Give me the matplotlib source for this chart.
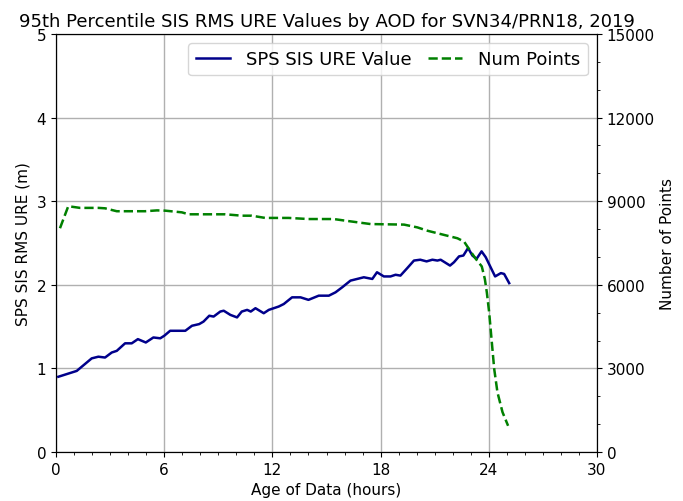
import matplotlib
matplotlib.use("Agg")
import matplotlib.pyplot as plt
from matplotlib.ticker import MultipleLocator

# SIS URE (m) vs age of data (hours)
ure_hours = [0.13, 1.15, 1.98, 2.35, 2.72, 3.09, 3.37, 3.83, 4.2, 4.54, 4.98, 5.4, 5.78, 6.0,
             6.33, 7.17, 7.54, 7.94, 8.18, 8.5, 8.74, 9.11, 9.3, 9.67, 10.04, 10.3, 10.6, 10.8,
             11.06, 11.52, 11.8, 12.35, 12.63, 13.09, 13.56, 14.0, 14.57, 15.13, 15.5, 15.87,
             16.33, 17.07, 17.54, 17.8, 18.18, 18.55, 18.83, 19.1, 19.48, 19.85, 20.2, 20.55,
             20.87, 21.15, 21.33, 21.85, 22.07, 22.35, 22.59, 22.85, 23.09, 23.32, 23.6, 23.83,
             24.1, 24.35, 24.67, 24.85, 25.13]
ure_values = [0.90, 0.97, 1.12, 1.14, 1.13, 1.19, 1.21, 1.30, 1.30, 1.35, 1.31, 1.37, 1.36, 1.39,
              1.45, 1.45, 1.51, 1.53, 1.56, 1.63, 1.62, 1.68, 1.69, 1.64, 1.61, 1.68, 1.70, 1.68,
              1.72, 1.66, 1.70, 1.74, 1.77, 1.85, 1.85, 1.82, 1.87, 1.87, 1.91, 1.97,
              2.05, 2.09, 2.07, 2.15, 2.10, 2.10, 2.12, 2.11, 2.20, 2.29, 2.30, 2.28,
              2.30, 2.29, 2.30, 2.23, 2.27, 2.34, 2.35, 2.44, 2.35, 2.31, 2.40, 2.33,
              2.21, 2.10, 2.14, 2.13, 2.02]

# Number of points vs age of data (hours)
num_hours = [0.22, 0.68, 1.33, 2.35, 2.72, 3.37, 4.94, 5.6, 6.06, 6.98, 7.35, 9.39, 10.3, 10.85,
             11.6, 12.9, 14.0, 15.4, 16.06, 17.44, 19.3, 20.04, 20.6, 21.52, 22.26, 22.63,
             23.0, 23.28, 23.61, 23.78, 23.89, 24.02, 24.15, 24.3, 24.48, 24.76, 25.07]
num_points = [8030, 8820, 8760, 8760, 8745, 8640, 8640, 8670, 8660, 8600, 8530, 8530, 8480, 8480,
              8400, 8400, 8360, 8360, 8300, 8180, 8160, 8060, 7940, 7790, 7670, 7550,
              7190, 6930, 6660, 6210, 5730, 5010, 4060, 2980, 2140, 1430, 940]

fig = plt.figure(figsize=(6.83, 5.02), dpi=100)
ax = fig.add_axes([56/683, 1-453/502, (597-56)/683, (453-35)/502])
ax2 = ax.twinx()

l1, = ax.plot(ure_hours, ure_values, color='darkblue', lw=1.8, label='SPS SIS URE Value')
l2, = ax2.plot(num_hours, num_points, color='green', lw=1.8, ls='--', label='Num Points')

ax.set_xlim(0, 30)
ax.set_ylim(0, 5)
ax2.set_ylim(0, 15000)
ax.set_xticks([0, 6, 12, 18, 24, 30])
ax.xaxis.set_minor_locator(MultipleLocator(1))
ax.set_yticks([0, 1, 2, 3, 4, 5])
ax2.set_yticks([0, 3000, 6000, 9000, 12000, 15000])
ax2.yaxis.set_minor_locator(MultipleLocator(1000))
ax.grid(True, color='#b0b0b0', lw=1.0)

ax.tick_params(labelsize=11)
ax2.tick_params(labelsize=11)
ax.set_xlabel('Age of Data (hours)', fontsize=11)
ax.set_ylabel('SPS SIS RMS URE (m)', fontsize=11)
ax2.set_ylabel('Number of Points', fontsize=11)
ax.set_title('95th Percentile SIS RMS URE Values by AOD for SVN34/PRN18, 2019', fontsize=13, pad=6)

ax2.legend([l1, l2], [l1.get_label(), l2.get_label()], loc='upper right', ncol=2,
           fontsize=13, columnspacing=0.9, handlelength=1.9, handletextpad=0.9)

fig.savefig('out.png', dpi=100)
